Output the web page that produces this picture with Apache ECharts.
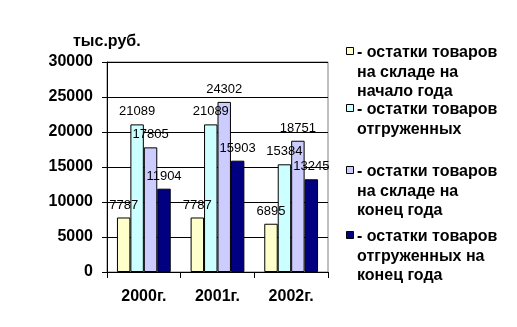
<!DOCTYPE html>
<html><head><meta charset="utf-8">
<script src="https://cdn.jsdelivr.net/npm/echarts@6/dist/echarts.min.js"></script>
<style>html,body{margin:0;padding:0;background:#fff}#c{width:517px;height:327px}</style>
</head><body><div id="c"></div>
<script>
var categories = ['2000г.', '2001г.', '2002г.'];
var seriesNames = [
  '- остатки товаров\nна складе на\nначало года',
  '- остатки товаров\nотгруженных',
  '- остатки товаров\nна складе на\nконец года',
  '- остатки товаров\nотгруженных на\nконец года'
];
var startStock = [7787, 7787, 6895];
var shipped = [21089, 21089, 15384];
var endStock = [17805, 24302, 18751];
var shippedEnd = [11904, 15903, 13245];
var colors = ['#FFFFCC', '#CCFFFF', '#CCCCFF', '#000080'];
var yTicks = [0, 5000, 10000, 15000, 20000, 25000, 30000];
var unitLabel = 'тыс.руб.';

var FONT = 'Liberation Sans, Arial, sans-serif';
var values = [startStock, shipped, endStock, shippedEnd];
var lineH = 19.2;
var legendFirstLine = [53, 110, 172, 237];

var chart = echarts.init(document.getElementById('c'), null, {renderer: 'canvas'});
var graphics = [];
seriesNames.forEach(function (n, i) {
  var top = legendFirstLine[i] - lineH / 2;
  graphics.push({type: 'rect', left: 346, top: legendFirstLine[i] - 6,
    shape: {width: 7, height: 7}, style: {fill: colors[i], stroke: '#000', lineWidth: 1}});
  graphics.push({type: 'text', left: 357, top: top,
    style: {text: n, font: 'bold 16px ' + FONT, fill: '#000', lineHeight: lineH}});
});

chart.setOption({
  animation: false,
  title: {text: unitLabel, left: 68, top: 29,
    textStyle: {fontFamily: FONT, fontWeight: 'bold', fontSize: 16, color: '#000'}},
  grid: {left: 107, right: 189, top: 62, bottom: 55, show: true, borderColor: '#808080', borderWidth: 1},
  xAxis: {
    type: 'category', data: categories,
    axisLine: {lineStyle: {color: '#000'}},
    axisTick: {show: true, length: 6, lineStyle: {color: '#000'}},
    axisLabel: {margin: 17, fontFamily: FONT, fontWeight: 'bold', fontSize: 16, color: '#000'}
  },
  yAxis: {
    type: 'value', min: yTicks[0], max: yTicks[yTicks.length - 1], interval: yTicks[1] - yTicks[0],
    axisLine: {show: true, lineStyle: {color: '#000'}},
    axisTick: {show: true, length: 5, lineStyle: {color: '#000'}},
    splitLine: {show: true, lineStyle: {color: '#000', width: 1}},
    axisLabel: {margin: 14, fontFamily: FONT, fontWeight: 'bold', fontSize: 16, color: '#000',
      formatter: function (v) { return String(v); }}
  },
  series: values.map(function (v, i) {
    return {
      type: 'bar', name: seriesNames[i], data: v,
      barGap: '0%', barCategoryGap: '27%',
      itemStyle: {color: colors[i], borderColor: '#000', borderWidth: 1},
      label: {show: true, position: 'top', distance: 6, fontFamily: FONT, fontSize: 13, color: '#000'}
    };
  }),
  graphic: graphics
});
</script></body></html>
